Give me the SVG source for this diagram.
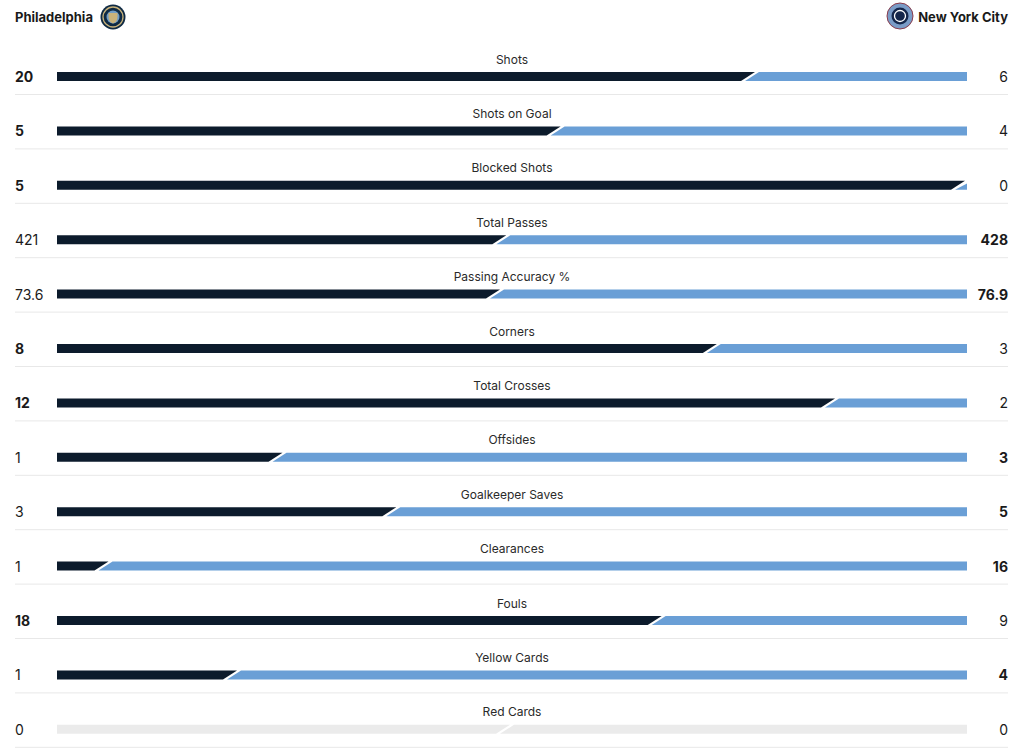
<svg xmlns="http://www.w3.org/2000/svg" width="1024" height="754" viewBox="0 0 1024 754">
<style>
text{font-family:Inter,"Liberation Sans",Arial,sans-serif;fill:#1a1a1a}
.team{font-size:13px;font-weight:700}
.lbl{font-size:12px;text-anchor:middle;fill:#2a2a2a}
.v{font-size:14px}
.b{font-weight:700}
.r{text-anchor:end}
.dk{fill:#0c1b2c}
.lt{fill:#6a9fd6}
.gr{fill:#ebebeb}
.sep{stroke:#e8e8e8;stroke-width:1}
</style>
<rect width="1024" height="754" fill="#fff"/>
<g id="header">
<text class="team" x="15" y="22">Philadelphia</text>
<g id="logo-phi">
<circle cx="113" cy="17" r="12.5" fill="#0f2a44"/>
<circle cx="113" cy="17" r="10" fill="none" stroke="#c9b27a" stroke-width="1.3"/>
<circle cx="113" cy="17" r="6.5" fill="#6f9cc7"/>
<path d="M108.5 13 h9 v4 q0 5 -4.5 6.5 q-4.5 -1.5 -4.5 -6.5z" fill="#c9b27a"/>
</g>
<g id="logo-nyc">
<circle cx="900" cy="16" r="13" fill="#7a9cc7" stroke="#8a3b4a" stroke-width="1"/>
<circle cx="900" cy="16" r="8.5" fill="#14264a"/>
<circle cx="900" cy="16" r="5.5" fill="none" stroke="#ffffff" stroke-width="1.3"/>
</g>
<text class="team r" x="1008" y="22">New York City</text>
</g>
<g id="separators">
<line class="sep" x1="15" y1="94.5" x2="1008" y2="94.5"/>
<line class="sep" x1="15" y1="148.9" x2="1008" y2="148.9"/>
<line class="sep" x1="15" y1="203.3" x2="1008" y2="203.3"/>
<line class="sep" x1="15" y1="257.7" x2="1008" y2="257.7"/>
<line class="sep" x1="15" y1="312.1" x2="1008" y2="312.1"/>
<line class="sep" x1="15" y1="366.5" x2="1008" y2="366.5"/>
<line class="sep" x1="15" y1="420.9" x2="1008" y2="420.9"/>
<line class="sep" x1="15" y1="475.3" x2="1008" y2="475.3"/>
<line class="sep" x1="15" y1="529.7" x2="1008" y2="529.7"/>
<line class="sep" x1="15" y1="584.1" x2="1008" y2="584.1"/>
<line class="sep" x1="15" y1="638.5" x2="1008" y2="638.5"/>
<line class="sep" x1="15" y1="692.9" x2="1008" y2="692.9"/>
<line class="sep" x1="15" y1="747.3" x2="1008" y2="747.3"/>
</g>
<g id="row-shots">
<text class="lbl" x="512" y="63.5">Shots</text>
<text class="v b" x="15" y="82">20</text>
<text class="v r" x="1008" y="82">6</text>
<polygon class="dk" points="57,72 755,72 741,81 57,81"/>
<polygon class="lt" points="759,72 967,72 967,81 745,81"/>
</g>
<g id="row-shots-on-goal" transform="translate(0,54.4)">
<text class="lbl" x="512" y="63.5">Shots on Goal</text>
<text class="v b" x="15" y="82">5</text>
<text class="v r" x="1008" y="82">4</text>
<polygon class="dk" points="57,72 560.6,72 546.6,81 57,81"/>
<polygon class="lt" points="564.6,72 967,72 967,81 550.6,81"/>
</g>
<g id="row-blocked-shots" transform="translate(0,108.8)">
<text class="lbl" x="512" y="63.5">Blocked Shots</text>
<text class="v b" x="15" y="82">5</text>
<text class="v r" x="1008" y="82">0</text>
<polygon class="dk" points="57,72 965,72 951,81 57,81"/>
<polygon class="lt" points="967,74.6 967,81 955,81"/>
</g>
<g id="row-total-passes" transform="translate(0,163.2)">
<text class="lbl" x="512" y="63.5">Total Passes</text>
<text class="v" x="15" y="82">421</text>
<text class="v b r" x="1008" y="82">428</text>
<polygon class="dk" points="57,72 506.3,72 492.3,81 57,81"/>
<polygon class="lt" points="510.3,72 967,72 967,81 496.3,81"/>
</g>
<g id="row-passing-accuracy" transform="translate(0,217.6)">
<text class="lbl" x="512" y="63.5">Passing Accuracy %</text>
<text class="v" x="15" y="82">73.6</text>
<text class="v b r" x="1008" y="82">76.9</text>
<polygon class="dk" points="57,72 500,72 486,81 57,81"/>
<polygon class="lt" points="504,72 967,72 967,81 490,81"/>
</g>
<g id="row-corners" transform="translate(0,272)">
<text class="lbl" x="512" y="63.5">Corners</text>
<text class="v b" x="15" y="82">8</text>
<text class="v r" x="1008" y="82">3</text>
<polygon class="dk" points="57,72 716.8,72 702.8,81 57,81"/>
<polygon class="lt" points="720.8,72 967,72 967,81 706.8,81"/>
</g>
<g id="row-total-crosses" transform="translate(0,326.4)">
<text class="lbl" x="512" y="63.5">Total Crosses</text>
<text class="v b" x="15" y="82">12</text>
<text class="v r" x="1008" y="82">2</text>
<polygon class="dk" points="57,72 835,72 821,81 57,81"/>
<polygon class="lt" points="839,72 967,72 967,81 825,81"/>
</g>
<g id="row-offsides" transform="translate(0,380.8)">
<text class="lbl" x="512" y="63.5">Offsides</text>
<text class="v" x="15" y="82">1</text>
<text class="v b r" x="1008" y="82">3</text>
<polygon class="dk" points="57,72 282.5,72 268.5,81 57,81"/>
<polygon class="lt" points="286.5,72 967,72 967,81 272.5,81"/>
</g>
<g id="row-goalkeeper-saves" transform="translate(0,435.2)">
<text class="lbl" x="512" y="63.5">Goalkeeper Saves</text>
<text class="v" x="15" y="82">3</text>
<text class="v b r" x="1008" y="82">5</text>
<polygon class="dk" points="57,72 396.3,72 382.3,81 57,81"/>
<polygon class="lt" points="400.3,72 967,72 967,81 386.3,81"/>
</g>
<g id="row-clearances" transform="translate(0,489.6)">
<text class="lbl" x="512" y="63.5">Clearances</text>
<text class="v" x="15" y="82">1</text>
<text class="v b r" x="1008" y="82">16</text>
<polygon class="dk" points="57,72 108.5,72 94.5,81 57,81"/>
<polygon class="lt" points="112.5,72 967,72 967,81 98.5,81"/>
</g>
<g id="row-fouls" transform="translate(0,544)">
<text class="lbl" x="512" y="63.5">Fouls</text>
<text class="v b" x="15" y="82">18</text>
<text class="v r" x="1008" y="82">9</text>
<polygon class="dk" points="57,72 661.7,72 647.7,81 57,81"/>
<polygon class="lt" points="665.7,72 967,72 967,81 651.7,81"/>
</g>
<g id="row-yellow-cards" transform="translate(0,598.4)">
<text class="lbl" x="512" y="63.5">Yellow Cards</text>
<text class="v" x="15" y="82">1</text>
<text class="v b r" x="1008" y="82">4</text>
<polygon class="dk" points="57,72 237,72 223,81 57,81"/>
<polygon class="lt" points="241,72 967,72 967,81 227,81"/>
</g>
<g id="row-red-cards" transform="translate(0,652.8)">
<text class="lbl" x="512" y="63.5">Red Cards</text>
<text class="v" x="15" y="82">0</text>
<text class="v r" x="1008" y="82">0</text>
<polygon class="gr" points="57,72 510,72 496,81 57,81"/>
<polygon class="gr" points="514,72 967,72 967,81 500,81"/>
</g>
</svg>
